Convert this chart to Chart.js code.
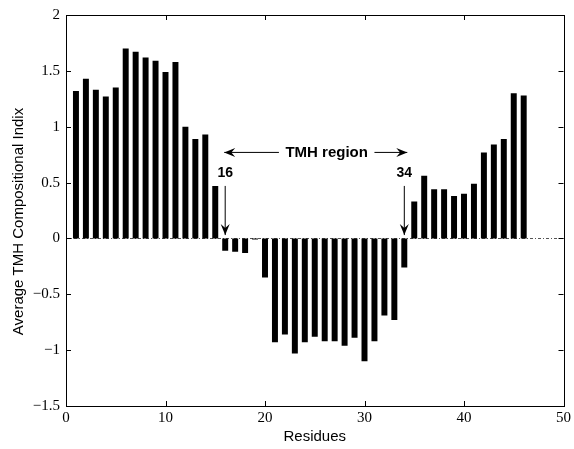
<!DOCTYPE html>
<html>
<head>
<meta charset="utf-8">
<script src="https://cdn.jsdelivr.net/npm/chart.js@4"></script>
<style>
  html, body { margin: 0; padding: 0; background: #fff; }
  #wrap { width: 574px; height: 449px; }
</style>
</head>
<body>
<div id="wrap"><canvas id="chart" width="574" height="449"></canvas></div>
<script>
// residue positions and the TMH compositional index
const residues = [1, 2, 3, 4, 5, 6, 7, 8, 9, 10, 11, 12, 13, 14, 15, 16, 17, 18, 19, 20, 21, 22, 23,
  24, 25, 26, 27, 28, 29, 30, 31, 32, 33, 34, 35, 36, 37, 38, 39, 40, 41, 42, 43, 44, 45, 46];
const tmhIndex = [1.32, 1.43, 1.33, 1.27, 1.35, 1.70, 1.67, 1.62, 1.59, 1.49, 1.58, 1.00, 0.89, 0.93,
  0.47, -0.11, -0.12, -0.13, -0.01, -0.35, -0.93, -0.86, -1.03, -0.93, -0.88, -0.92, -0.92, -0.96,
  -0.89, -1.10, -0.92, -0.69, -0.73, -0.26, 0.33, 0.56, 0.44, 0.44, 0.38, 0.40, 0.49, 0.77, 0.84,
  0.89, 1.30, 1.28];
const xTicks = [0, 10, 20, 30, 40, 50];
const yTicks = [2, 1.5, 1, 0.5, 0, -0.5, -1, -1.5];

const region = { start: 16, end: 34, label: "TMH region" };
const yTitle = "Average TMH Compositional Indix";

const serif = "'Liberation Serif', 'Times New Roman', serif";
const sans = "'Liberation Sans', Arial, Helvetica, sans-serif";

const fmt = (v) => String(v).replace("-", "\u2212");

// zero baseline, drawn behind the bars
const baseline = {
  id: "baseline",
  beforeDatasetsDraw(chart) {
    const { ctx, scales: { x, y } } = chart;
    const py = Math.round(y.getPixelForValue(0)) + 0.5;
    ctx.save();
    ctx.strokeStyle = "#555";
    ctx.lineWidth = 1;
    ctx.setLineDash([3, 2, 1, 2]);
    ctx.beginPath();
    ctx.moveTo(x.getPixelForValue(0), py);
    ctx.lineTo(x.getPixelForValue(50), py);
    ctx.stroke();
    ctx.restore();
  },
};

// matlab-ish box with inward ticks, y title, plus the annotations
const frame = {
  id: "frame",
  afterDraw(chart) {
    const { ctx, chartArea: a, scales: { x, y } } = chart;
    ctx.save();
    ctx.strokeStyle = "#000";
    ctx.lineWidth = 1;
    ctx.strokeRect(Math.round(a.left) + 0.5, Math.round(a.top) + 0.5,
      Math.round(a.right - a.left), Math.round(a.bottom - a.top));
    const t = 5;
    ctx.beginPath();
    for (const v of xTicks) {
      const px = Math.round(x.getPixelForValue(v)) + 0.5;
      ctx.moveTo(px, a.bottom); ctx.lineTo(px, a.bottom - t);
      ctx.moveTo(px, a.top); ctx.lineTo(px, a.top + t);
    }
    for (const v of yTicks) {
      const py = Math.round(y.getPixelForValue(v)) + 0.5;
      ctx.moveTo(a.left, py); ctx.lineTo(a.left + t, py);
      ctx.moveTo(a.right, py); ctx.lineTo(a.right - t, py);
    }
    ctx.stroke();

    // y title (sits a little below the axis centre in the original)
    ctx.fillStyle = "#000";
    ctx.save();
    ctx.translate(18.5, (a.top + a.bottom) / 2 + 11);
    ctx.rotate(-Math.PI / 2);
    ctx.font = "15px " + sans;
    ctx.textAlign = "center";
    ctx.textBaseline = "middle";
    ctx.fillText(yTitle, 0, 0);
    ctx.restore();

    const arrow = (x0, y0, x1, y1) => {
      const X0 = x.getPixelForValue(x0), Y0 = y.getPixelForValue(y0);
      const X1 = x.getPixelForValue(x1), Y1 = y.getPixelForValue(y1);
      ctx.beginPath();
      ctx.moveTo(X0, Y0); ctx.lineTo(X1, Y1);
      ctx.stroke();
      const ang = Math.atan2(Y1 - Y0, X1 - X0);
      const len = 11, wid = 4.5;
      ctx.beginPath();
      ctx.moveTo(X1, Y1);
      ctx.lineTo(X1 - len * Math.cos(ang) + wid * Math.sin(ang), Y1 - len * Math.sin(ang) - wid * Math.cos(ang));
      ctx.lineTo(X1 - len * 0.65 * Math.cos(ang), Y1 - len * 0.65 * Math.sin(ang));
      ctx.lineTo(X1 - len * Math.cos(ang) - wid * Math.sin(ang), Y1 - len * Math.sin(ang) + wid * Math.cos(ang));
      ctx.closePath();
      ctx.fill();
    };

    ctx.strokeStyle = "#000";
    ctx.lineWidth = 1;
    ctx.font = "bold 15px " + sans;
    ctx.textAlign = "center";
    ctx.textBaseline = "middle";
    ctx.fillText(region.label, x.getPixelForValue(26.2), y.getPixelForValue(0.77));
    arrow(21.4, 0.77, 15.9, 0.77);
    arrow(31.0, 0.77, 34.3, 0.77);

    ctx.font = "bold 14px " + sans;
    ctx.fillText(String(region.start), x.getPixelForValue(region.start), y.getPixelForValue(0.58));
    ctx.fillText(String(region.end), x.getPixelForValue(region.end), y.getPixelForValue(0.58));
    arrow(region.start, 0.47, region.start, 0.03);
    arrow(region.end, 0.47, region.end, 0.03);
    ctx.restore();
  },
};

new Chart(document.getElementById("chart"), {
  type: "bar",
  data: {
    datasets: [{
      data: residues.map((r, i) => ({ x: r, y: tmhIndex[i] })),
      backgroundColor: "#000",
      borderWidth: 0,
      barPercentage: 0.6,
      categoryPercentage: 1,
    }],
  },
  options: {
    responsive: false,
    animation: false,
    layout: { padding: { top: 14, right: 8, left: 0, bottom: 0 } },
    plugins: { legend: { display: false }, tooltip: { enabled: false } },
    scales: {
      x: {
        type: "linear",
        min: 0,
        max: 50,
        offset: false,
        grid: { display: false, drawTicks: false },
        border: { display: false },
        afterBuildTicks: (s) => { s.ticks = xTicks.map((v) => ({ value: v })); },
        ticks: { color: "#000", font: { family: serif, size: 15 }, padding: 3, maxRotation: 0 },
        title: { display: true, text: "Residues", color: "#000", font: { family: sans, size: 15 }, padding: { top: 0, bottom: 3 } },
        afterFit: (s) => { s.height = 43; },
      },
      y: {
        min: -1.5,
        max: 2,
        grid: { display: false, drawTicks: false },
        border: { display: false },
        afterBuildTicks: (s) => { s.ticks = yTicks.map((v) => ({ value: v })); },
        ticks: { color: "#000", font: { family: serif, size: 15 }, padding: 6, callback: (v) => fmt(v) },
        afterFit: (s) => { s.width = 66; },
      },
    },
  },
  plugins: [baseline, frame],
});
</script>
</body>
</html>
